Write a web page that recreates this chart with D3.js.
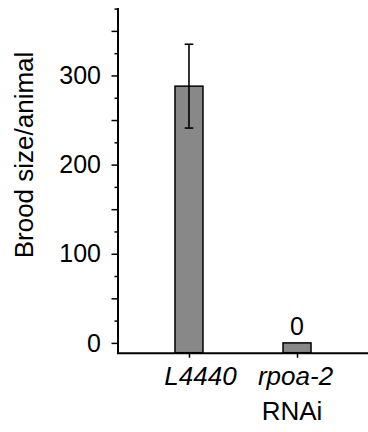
<!DOCTYPE html>
<html>
<head>
<meta charset="utf-8">
<script src="https://d3js.org/d3.v7.min.js"></script>
<style>
    body { margin: 0; background: #fff; }
    text { font-family: "Liberation Sans", Arial, sans-serif; fill: #000; }
</style>
</head>
<body>
<div id="chart"></div>
<script>
// data
var categories = ["L4440", "rpoa-2"];
var broodMeans = [288, 0];
var broodErrors = [47, 0];
var valueLabels = [null, "0"];
var yTickLabels = [0, 100, 200, 300];

var width = 368, height = 432;

var svg = d3.select("#chart").append("svg")
    .attr("width", width)
    .attr("height", height);

var xScale = d3.scalePoint()
    .domain(categories)
    .range([118, 368])
    .padding(0.657);

// axis floor sits a little below zero, bars start from the floor
var yScale = d3.scaleLinear()
    .domain([-11, 375])
    .range([352.7, 8.6]);

var barWidth = 28;

// bars
svg.selectAll("rect.bar")
    .data(categories)
    .enter().append("rect")
    .attr("class", "bar")
    .attr("x", function (d) { return xScale(d) - barWidth / 2; })
    .attr("y", function (d, i) { return yScale(broodMeans[i]); })
    .attr("width", barWidth)
    .attr("height", function (d, i) { return yScale(-11) - yScale(broodMeans[i]); })
    .attr("fill", "#888888")
    .attr("stroke", "#000")
    .attr("stroke-width", 1.5);

// error bars
var err = svg.selectAll("g.err")
    .data(categories.filter(function (d, i) { return broodErrors[i] > 0; }))
    .enter().append("g")
    .attr("class", "err")
    .attr("stroke", "#000")
    .attr("stroke-width", 1.6);

err.append("line")
    .attr("x1", function (d) { return xScale(d); })
    .attr("x2", function (d) { return xScale(d); })
    .attr("y1", function (d) { var i = categories.indexOf(d); return yScale(broodMeans[i] + broodErrors[i]); })
    .attr("y2", function (d) { var i = categories.indexOf(d); return yScale(broodMeans[i] - broodErrors[i]); });

err.selectAll("line.cap")
    .data(function (d) {
        var i = categories.indexOf(d);
        return [[d, broodMeans[i] + broodErrors[i]], [d, broodMeans[i] - broodErrors[i]]];
    })
    .enter().append("line")
    .attr("class", "cap")
    .attr("x1", function (d) { return xScale(d[0]) - 4.3; })
    .attr("x2", function (d) { return xScale(d[0]) + 4.3; })
    .attr("y1", function (d) { return yScale(d[1]); })
    .attr("y2", function (d) { return yScale(d[1]); });

// value label above the small bar
svg.selectAll("text.val")
    .data(categories)
    .enter().append("text")
    .attr("class", "val")
    .attr("x", function (d) { return xScale(d); })
    .attr("y", function (d, i) { return yScale(broodMeans[i]) - 7.5; })
    .attr("text-anchor", "middle")
    .style("font-size", "25px")
    .text(function (d, i) { return valueLabels[i] === null ? "" : valueLabels[i]; });

// y axis: major ticks every 50, minor every 25, labels every 100
var yAxis = d3.axisLeft(yScale)
    .tickValues(d3.range(0, 376, 25))
    .tickSize(0)
    .tickFormat("");

var yAxisG = svg.append("g")
    .attr("transform", "translate(118,0)")
    .call(yAxis);

yAxisG.select(".domain").remove();
yAxisG.selectAll(".tick line")
    .attr("x2", function (d) { return d % 50 === 0 ? -6.5 : -3.5; })
    .attr("stroke", "#000")
    .attr("stroke-width", 1.5);

yAxisG.append("line")
    .attr("x1", 0).attr("x2", 0)
    .attr("y1", yScale(375) - 0.5)
    .attr("y2", yScale(-11) + 1.5)
    .attr("stroke", "#000")
    .attr("stroke-width", 2);

yAxisG.selectAll("text.ylab")
    .data(yTickLabels)
    .enter().append("text")
    .attr("class", "ylab")
    .attr("x", -17)
    .attr("y", function (d) { return yScale(d); })
    .attr("dy", "0.35em")
    .attr("text-anchor", "end")
    .style("font-size", "25px")
    .text(function (d) { return d; });

// x axis
var xAxis = d3.axisBottom(xScale)
    .tickSize(5)
    .tickSizeOuter(0)
    .tickFormat("");

var xAxisG = svg.append("g")
    .attr("transform", "translate(0," + yScale(-11) + ")")
    .call(xAxis);

xAxisG.select(".domain")
    .attr("stroke", "#000")
    .attr("stroke-width", 2);
xAxisG.selectAll(".tick line")
    .attr("stroke", "#000")
    .attr("stroke-width", 1.5);

// category labels (the first one sits a bit right of its tick in the original)
xAxisG.selectAll("text.cat")
    .data(categories)
    .enter().append("text")
    .attr("class", "cat")
    .attr("x", function (d, i) { return xScale(d) + (i === 0 ? 11.5 : -1.5); })
    .attr("y", 32)
    .attr("text-anchor", "middle")
    .style("font-size", "26px")
    .style("font-style", "italic")
    .text(function (d) { return d; });

svg.append("text")
    .attr("x", 292)
    .attr("y", 420)
    .attr("text-anchor", "middle")
    .style("font-size", "26px")
    .text("RNAi");

// y axis title
svg.append("text")
    .attr("transform", "translate(33,155) rotate(-90)")
    .attr("text-anchor", "middle")
    .style("font-size", "26px")
    .text("Brood size/animal");
</script>
</body>
</html>
